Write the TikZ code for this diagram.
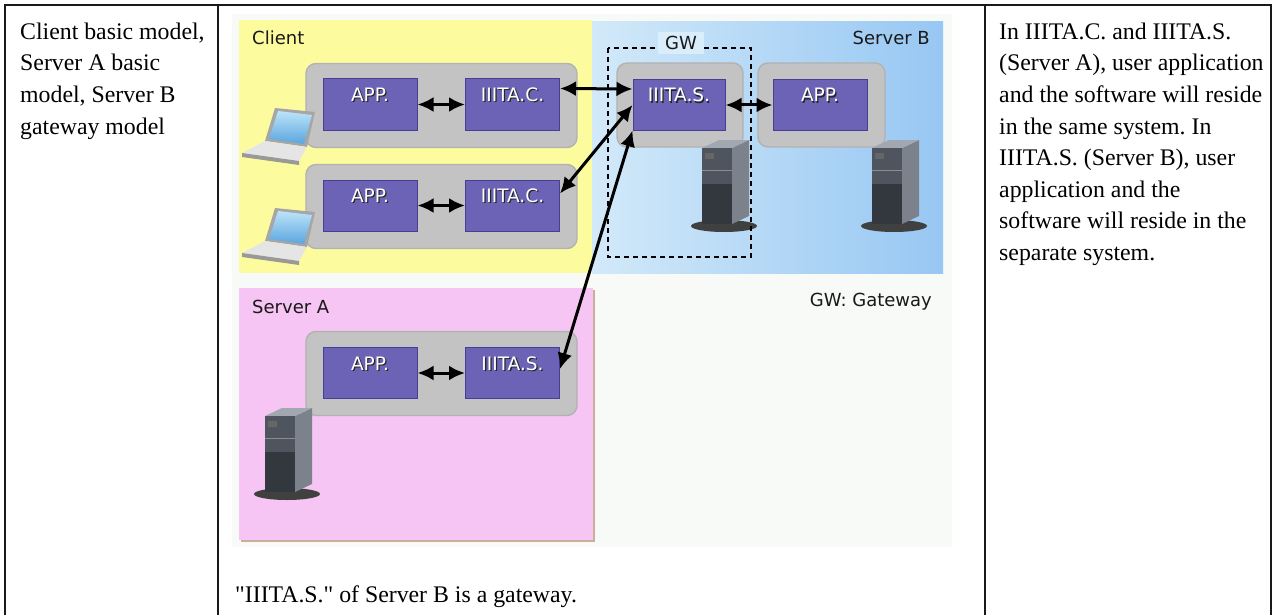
\documentclass[tikz,border=0pt]{standalone}
\usepackage{fontspec}
\setmainfont{Liberation Serif}
\newfontfamily\pixfont{DejaVu Sans}
\usetikzlibrary{arrows.meta}
\frenchspacing
\definecolor{imgbg}{HTML}{F7FAF7}
\definecolor{clientyellow}{HTML}{FCFC9E}
\definecolor{serverpink}{HTML}{F6C5F3}
\definecolor{pinkedge}{HTML}{CDAE98}
\definecolor{blueleft}{HTML}{D2E9F9}
\definecolor{blueright}{HTML}{97C7F3}
\definecolor{gwpatch}{HTML}{DAEDFA}
\definecolor{hostgray}{HTML}{C3C3C3}
\definecolor{modpurple}{HTML}{6C63B6}
\definecolor{modedge}{HTML}{463F92}
\definecolor{towertop}{HTML}{A2A8B0}
\definecolor{towerside}{HTML}{7C828C}
\definecolor{towerfront}{HTML}{4F555F}
\definecolor{towerdark}{HTML}{33373E}
\definecolor{screenlight}{HTML}{BDE3F9}
\definecolor{screendark}{HTML}{5AA6DE}
\newcommand\shadetxt[1]{\rlap{\kern1.3pt\raisebox{-1.3pt}{\color{black!85}#1}}\textcolor{white}{#1}}
\tikzset{
  tower/.pic={
    \fill[black!75] (22,86) ellipse [x radius=33, y radius=6];
    \fill[towerside] (30,8) -- (47,0) -- (47,76) -- (30,84) -- cycle;
    \fill[towertop] (0,8) -- (17,0) -- (47,0) -- (30,8) -- cycle;
    \fill[towerfront] (0,8) rectangle (30,44);
    \fill[towerdark] (0,44) rectangle (30,84);
    \fill[black!60] (3,13) rectangle (12,19);
    \draw[black!45] (0,30) -- (30,30);
  },
  laptop/.pic={
    \fill[black!35] (23,34) -- (33,1) -- (73,5) -- (65,40) -- cycle;
    \shade[top color=screenlight, bottom color=screendark] (27,32) -- (36,4) -- (70,8) -- (62,37) -- cycle;
    \fill[black!10] (0,46) -- (23,34) -- (65,40) -- (57,54) -- cycle;
    \fill[black!40] (0,46) -- (57,54) -- (57,58) -- (0,50) -- cycle;
  }
}
\begin{document}
\begin{tikzpicture}[x=1pt,y=-1pt,
  hostbox/.style={rectangle, rounded corners=10pt, fill=hostgray, draw=black!30, line width=1.4pt, minimum width=271pt, minimum height=84pt, inner sep=0pt},
  modbox/.style={rectangle, fill=modpurple, draw=modedge, line width=1pt, minimum width=94pt, minimum height=51pt, inner sep=0pt, text height=13pt, text depth=19pt, font=\pixfont\fontsize{18.5}{18}\selectfont},
  lbl/.style={inner sep=0pt, text=black!90, font=\pixfont\fontsize{18}{18}\selectfont},
  tabtxt/.style={anchor=base west, inner sep=0pt, font=\fontsize{23.8}{28}\selectfont},
  dbl/.style={{Latex[length=16pt,width=15pt]}-{Latex[length=16pt,width=15pt]}, line width=3pt}]
\useasboundingbox (0,0) rectangle (1273,615);
\fill[white] (0,0) rectangle (1273,615);
\fill[imgbg] (232,14) rectangle (952,547);
\fill[clientyellow] (239,20) rectangle (592,273);
\shade[left color=blueleft, right color=blueright] (592,22) rectangle (943,273);
\fill[pinkedge] (241,290) rectangle (595,542);
\fill[serverpink] (239,288) rectangle (593,540);
\node[lbl, anchor=west] (cltxt) at (252,38) {Client};
\node[lbl, anchor=east] (sbtxt) at (930,38) {Server B};
\node[lbl, anchor=west] (satxt) at (252,307) {Server A};
\node[lbl, anchor=east] (gwkey) at (932,302) {GW: Gateway};
\node[hostbox] (cl1) at (441.5,105.5) {};
\node[hostbox] (cl2) at (441.5,206.5) {};
\node[hostbox] (sa) at (441.5,373.5) {};
\node[hostbox, minimum width=126pt] (gwb) at (680,105) {};
\node[hostbox, minimum width=127pt] (bb) at (821.5,105) {};
\node[modbox] (app1) at (370,104.5) {\shadetxt{APP.}};
\node[modbox] (cc1) at (512.5,104.5) {\shadetxt{IIITA.C.}};
\node[modbox] (app2) at (370,205.5) {\shadetxt{APP.}};
\node[modbox] (cc2) at (512.5,205.5) {\shadetxt{IIITA.C.}};
\node[modbox] (appa) at (370,373) {\shadetxt{APP.}};
\node[modbox] (sas) at (512.5,373) {\shadetxt{IIITA.S.}};
\node[modbox, minimum width=92pt, minimum height=50pt] (gws) at (679,105) {\shadetxt{IIITA.S.}};
\node[modbox, minimum height=50pt] (appb) at (820,105) {\shadetxt{APP.}};
\pic at (242,107) {laptop};
\pic at (242,207) {laptop};
\pic at (702,140) {tower};
\pic at (872,140) {tower};
\pic at (265,408) {tower};
\draw[line width=1.3pt, dash pattern=on 5pt off 4pt] (608,48) rectangle (751,257);
\node[lbl, fill=gwpatch, inner xsep=7pt, inner ysep=4pt] (gwtxt) at (681,43) {GW};
\draw[dbl] (app1.east) -- (cc1.west);
\draw[dbl] (app2.east) -- (cc2.west);
\draw[dbl] (appa.east) -- (sas.west);
\draw[dbl] (gws.east) -- (appb.west);
\draw[dbl] ([yshift=16pt]cc1.east) -- ([yshift=16pt]gws.west);
\draw[dbl] ([yshift=12pt]cc2.east) -- (gws.west);
\draw[dbl] ([yshift=4pt]sas.east) -- (gws.south west);
\draw[line width=2pt, black!90] (5,615) -- (5,5) -- (1271,5) -- (1271,615);
\draw[line width=2pt, black!90] (218,5) -- (218,615);
\draw[line width=2pt, black!90] (985,5) -- (985,615);
\foreach \t [count=\i] in {{Client basic model,},{Server A basic},{model, Server B},{gateway model}}
  \node[tabtxt] (l\i) at (20,{39.5+(\i-1)*31.5}) {\t};
\foreach \t [count=\i] in {{In IIITA.C. and IIITA.S.},{(Server A), user application},{and the software will reside},{in the same system. In},{IIITA.S. (Server B), user},{application and the},{software will reside in the},{separate system.}}
  \node[tabtxt] (r\i) at (999,{39.5+(\i-1)*31.5}) {\t};
\node[tabtxt] (note) at (235,602) {\textquotedbl IIITA.S.\textquotedbl{} of Server B is a gateway.};
\end{tikzpicture}
\end{document}
